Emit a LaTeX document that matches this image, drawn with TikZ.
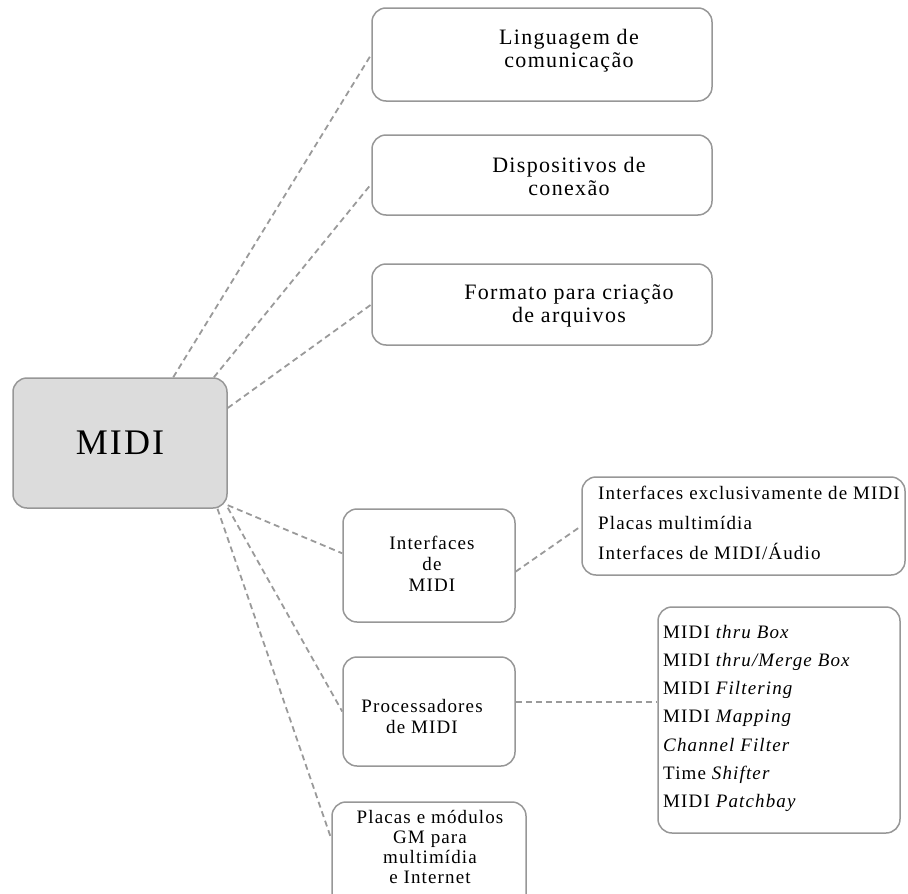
\documentclass[tikz,border=0pt]{standalone}
\usepackage{fontspec}
\setmainfont{Liberation Serif}[LetterSpace=6]
\begin{document}
\definecolor{midigray}{HTML}{DCDCDC}
\definecolor{boxgray}{HTML}{979797}
\definecolor{linkgray}{HTML}{9A9A9A}
\begin{tikzpicture}[x=1pt,y=-1pt,
  box/.style={draw=boxgray, line width=1.5pt, rounded corners=14pt, fill=white, inner sep=0pt},
  link/.style={draw=linkgray, line width=1.8pt, dash pattern=on 6pt off 4pt},
  bigtxt/.style={align=center, font=\fontsize{22}{23}\selectfont, inner sep=0pt},
  smalltxt/.style={align=center, font=\fontsize{19}{21}\selectfont, inner sep=0pt},
  listtxt/.style={align=left, anchor=base west, font=\fontsize{19}{21}\selectfont, inner sep=0pt}]
\useasboundingbox (0,0) rectangle (908,894);
\clip (0,0) rectangle (908,894);
% main node
\node[box, fill=midigray, minimum width=214pt, minimum height=130pt,
      font=\fontsize{36}{38}\selectfont] (midi) at (120,443) {MIDI};
% top branches
\node[box, minimum width=340pt, minimum height=93pt] (ling) at (542,54.5) {};
\node[bigtxt] (lingt) at (569,51) {Linguagem de\\comunicação};
\node[box, minimum width=340pt, minimum height=80pt] (disp) at (542,175) {};
\node[bigtxt] (dispt) at (569,176.5) {Dispositivos de\\conexão};
\node[box, minimum width=340pt, minimum height=81pt] (form) at (542,304.5) {};
\node[bigtxt] (formt) at (569,306) {Formato para criação\\de arquivos};
% lower branches
\node[box, minimum width=172pt, minimum height=113pt] (intf) at (429,565.5) {};
\node[smalltxt] (intft) at (432,564) {Interfaces\\de\\MIDI};
\node[box, minimum width=172pt, minimum height=109pt] (proc) at (429,711.5) {};
\node[smalltxt] (proct) at (422,716) {Processadores\\de MIDI};
\node[box, minimum width=194pt, minimum height=108pt] (plac) at (429,856) {};
\node[smalltxt, font=\fontsize{19}{20}\selectfont] (plact) at (430,847) {Placas e módulos\\GM para\\multimídia\\e Internet};
% lists
\node[box, minimum width=323pt, minimum height=98pt] (ilist) at (743.5,526) {};
\node[listtxt] (i1) at (598,499) {Interfaces exclusivamente de MIDI};
\node[listtxt] (i2) at (598,529) {Placas multimídia};
\node[listtxt] (i3) at (598,559) {Interfaces de MIDI/Áudio};
\node[box, minimum width=242pt, minimum height=226pt] (plist) at (779,720) {};
\node[listtxt] (p1) at (663,638) {MIDI \textit{thru Box}};
\node[listtxt] (p2) at (663,666.3) {MIDI \textit{thru/Merge Box}};
\node[listtxt] (p3) at (663,694.6) {MIDI \textit{Filtering}};
\node[listtxt] (p4) at (663,722.9) {MIDI \textit{Mapping}};
\node[listtxt] (p5) at (663,751.2) {\textit{Channel Filter}};
\node[listtxt] (p6) at (663,779.5) {Time \textit{Shifter}};
\node[listtxt] (p7) at (663,807.8) {MIDI \textit{Patchbay}};
% connectors
\draw[link] (midi.51) -- (ling.west);
\draw[link] (midi.35) -- (disp.183);
\draw[link] (midi.18) -- (form.west);
\draw[link] (midi.-30) -- (intf.172);
\draw[link] (midi.-31.5) -- (proc.west);
\draw[link] (midi.-34) -- (plac.170);
\draw[link] (intf.-4) -- (ilist.west);
\draw[link] (proc.6) -- (proc.6 -| plist.west);
\end{tikzpicture}
\end{document}
